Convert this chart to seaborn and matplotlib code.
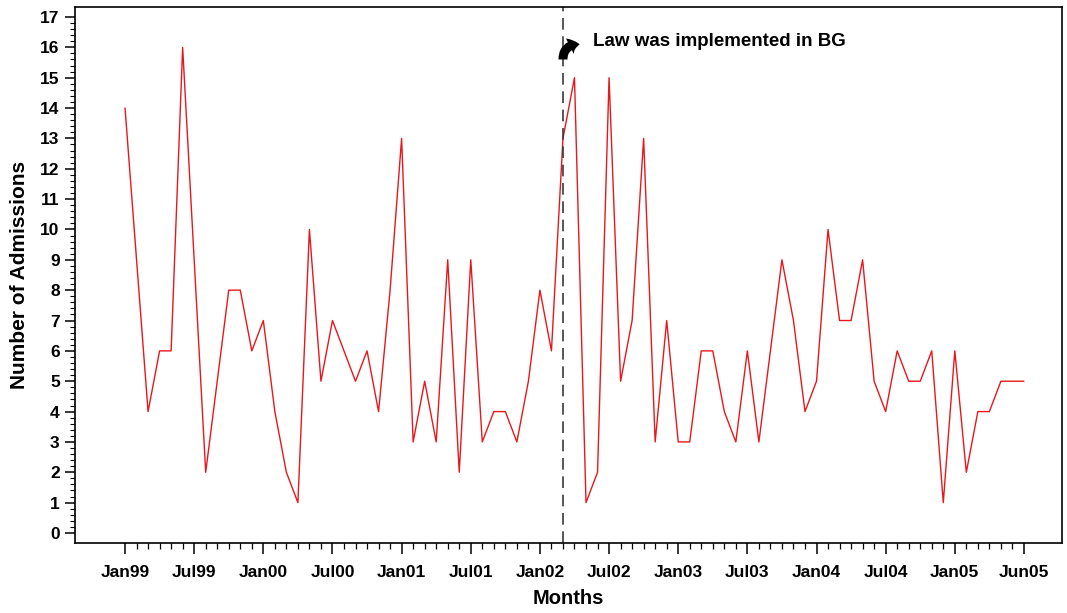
import numpy as np
import pandas as pd
import seaborn as sns
import matplotlib.pyplot as plt
from matplotlib.ticker import FixedLocator

# monthly admissions, Jan99 onwards
admissions = [14, 9, 4, 6, 6, 16, 9, 2, 5, 8, 8, 6, 7, 4, 2, 1, 10, 5, 7, 6,
              5, 6, 4, 8, 13, 3, 5, 3, 9, 2, 9, 3, 4, 4, 3, 5, 8, 6, 13, 15,
              1, 2, 15, 5, 7, 13, 3, 7, 3, 3, 6, 6, 4, 3, 6, 3, 6, 9, 7, 4,
              5, 10, 7, 7, 9, 5, 4, 6, 5, 5, 6, 1, 6, 2, 4, 4, 5, 5, 5]
tick_pos = [0, 6, 12, 18, 24, 30, 36, 42, 48, 54, 60, 66, 72, 78]
tick_labels = ["Jan99", "Jul99", "Jan00", "Jul00", "Jan01", "Jul01", "Jan02",
               "Jul02", "Jan03", "Jul03", "Jan04", "Jul04", "Jan05", "Jun05"]
law_month = 38
law_text = "Law was implemented in BG"

df = pd.DataFrame({"month": np.arange(len(admissions)), "admissions": admissions})

sns.set_style("ticks")
plt.rcParams["font.family"] = ["Liberation Sans", "DejaVu Sans"]
plt.rcParams["font.weight"] = "bold"
for k in ["text.color", "axes.labelcolor", "xtick.color", "ytick.color"]:
    plt.rcParams[k] = "black"

fig = plt.figure(figsize=(10.67, 6.13), dpi=100)
ax = fig.add_axes([0.0703, 0.1142, 0.925, 0.8744])

sns.lineplot(data=df, x="month", y="admissions", color="#e8171c", lw=1.0, ax=ax)

ax.set_xlim(-4.34, 81.3)
ax.set_ylim(-0.33, 17.33)

# implementation date
ax.axvline(law_month, color="#3a3a3a", lw=1.2, ls=(0, (7, 4)))
ax.annotate("", xy=(law_month + 1.45, 16.1), xytext=(law_month, 15.6),
            arrowprops=dict(arrowstyle="simple,head_length=0.4,head_width=0.7,tail_width=0.36",
                            color="black", lw=0, mutation_scale=18,
                            shrinkA=0, shrinkB=0,
                            connectionstyle="angle3,angleA=90,angleB=0"),
            annotation_clip=False)
ax.text(law_month + 2.6, 16.2, law_text, fontsize=13.5, fontweight="bold",
        va="center", ha="left")

ax.set_xticks(tick_pos)
ax.set_xticklabels(tick_labels)
ax.xaxis.set_minor_locator(FixedLocator(np.arange(0, len(admissions))))
ax.set_yticks(range(0, 18))
ax.yaxis.set_minor_locator(FixedLocator(np.arange(0, 85) / 5))

ax.tick_params(axis="x", which="major", length=8, width=1.1, pad=8, labelsize=12.5)
ax.tick_params(axis="x", which="minor", length=4, width=0.9)
ax.tick_params(axis="y", which="major", length=7, width=1.1, pad=4, labelsize=12.5)
ax.tick_params(axis="y", which="minor", length=3.5, width=0.8)
for lab in ax.get_xticklabels() + ax.get_yticklabels():
    lab.set_fontweight("bold")

for s in ax.spines.values():
    s.set_visible(True)
    s.set_linewidth(1.2)
    s.set_color("black")

ax.set_xlabel("Months", fontsize=14.5, fontweight="bold", labelpad=6)
ax.set_ylabel("Number of Admissions", fontsize=15, fontweight="bold", labelpad=8)

fig.savefig("out.png", dpi=100)
